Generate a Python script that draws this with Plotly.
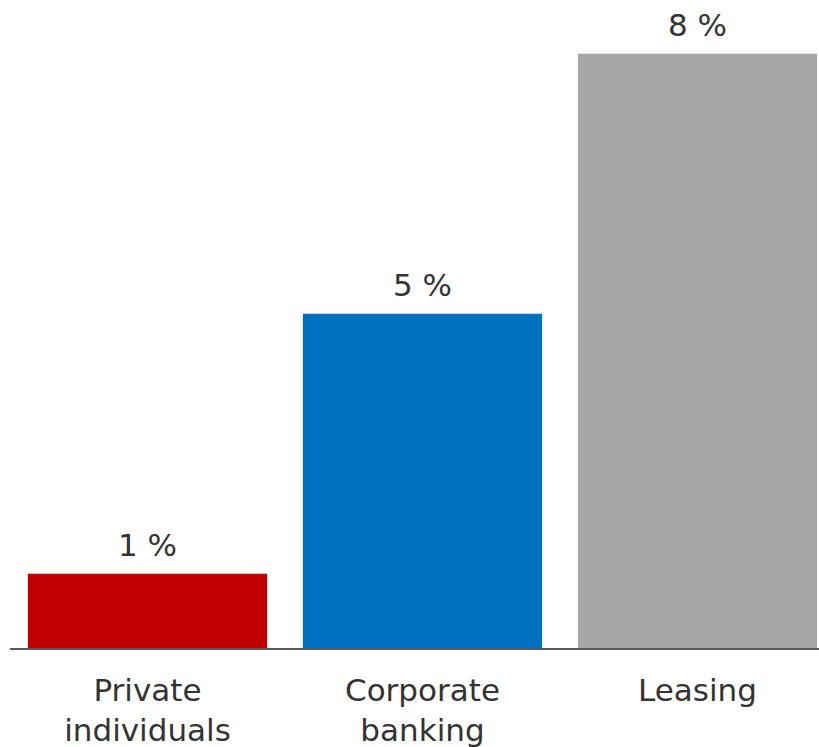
import math
import plotly.graph_objects as go

# Share of each business segment, in percent
categories = ["Private<br>individuals", "Corporate<br>banking", "Leasing"]
shares = [1.0, 4.5, 8.0]
bar_colors = ["#C00000", "#0070C0", "#A6A6A6"]

FONT = "DejaVu Sans"
TEXT_COLOR = "#333333"


def pct_label(v):
    # whole-percent label, rounding halves up
    return f"{math.floor(v + 0.5)} %"


fig = go.Figure(
    go.Bar(
        x=categories,
        y=shares,
        marker=dict(color=bar_colors, line=dict(width=0)),
        width=0.87,
        hoverinfo="skip",
    )
)

# Value labels above each bar
for cat, val in zip(categories, shares):
    fig.add_annotation(
        x=cat,
        y=val,
        text=pct_label(val),
        showarrow=False,
        yanchor="bottom",
        yshift=9,
        font=dict(family=FONT, size=31, color=TEXT_COLOR),
    )

fig.update_layout(
    width=819,
    height=747,
    margin=dict(l=10, r=0, t=0, b=99),
    paper_bgcolor="white",
    plot_bgcolor="white",
    showlegend=False,
    xaxis=dict(
        range=[-0.5, 2.442],
        showline=True,
        linecolor="#595959",
        linewidth=1.5,
        showgrid=False,
        zeroline=False,
        ticks="outside",
        ticklen=14,
        tickcolor="rgba(0,0,0,0)",
        tickfont=dict(family=FONT, size=31, color=TEXT_COLOR),
        fixedrange=True,
    ),
    yaxis=dict(
        range=[0, 8.725],
        visible=False,
        showgrid=False,
        zeroline=False,
        fixedrange=True,
    ),
)

fig.write_html("out.html")
